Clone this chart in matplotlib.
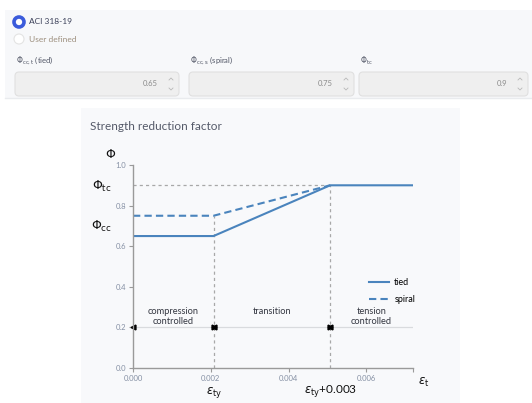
import numpy as np
import matplotlib.pyplot as plt
from matplotlib.patches import FancyBboxPatch, Rectangle, Circle

plt.rcParams['font.family'] = ['Lato', 'DejaVu Sans']
plt.rcParams['mathtext.fontset'] = 'dejavusans'

# form values
code_options = ['ACI 318-19', 'User defined']
field_labels = [r'$\Phi_{\mathrm{cc,t}}$ (tied)', r'$\Phi_{\mathrm{cc,s}}$ (spiral)', r'$\Phi_{\mathrm{tc}}$']
field_values = ['0.65', '0.75', '0.9']

# chart data
eps_ty = 0.00207
eps_end = 0.0072
tied_x = [0.0, eps_ty, eps_ty + 0.003, eps_end]
tied_y = [0.65, 0.65, 0.90, 0.90]
spiral_x = [0.0, eps_ty, eps_ty + 0.003]
spiral_y = [0.75, 0.75, 0.90]
zone_labels = ['compression\ncontrolled', 'transition', 'tension\ncontrolled']
xticks = [0.0, 0.002, 0.004, 0.006, eps_end]
xtick_labels = ['0.000', '0.002', '0.004', '0.006', '']
yticks = [0.0, 0.2, 0.4, 0.6, 0.8, 1.0]

W, H = 532, 403
fig = plt.figure(figsize=(W / 100, H / 100), dpi=100)
fig.patch.set_facecolor('white')

# background axis in pixel coordinates for the UI chrome
bg = fig.add_axes([0, 0, 1, 1])
bg.set_xlim(0, W)
bg.set_ylim(H, 0)
bg.axis('off')

bg.add_patch(Rectangle((5, 10), W - 5, 88, facecolor='#f7f8fa', edgecolor='none'))
bg.plot([5, W], [97.5, 97.5], color='#e9ebee', lw=1)

# radio buttons
bg.add_patch(Circle((19, 22), 5, facecolor='white', edgecolor='#3b5bdb', lw=2.6))
bg.text(29, 22, code_options[0], fontsize=6, color='#3a3f58', va='center')
bg.add_patch(Circle((19, 39), 5, facecolor='white', edgecolor='#e3e3e3', lw=0.8))
bg.text(29, 39, code_options[1], fontsize=6, color='#9d8f7e', va='center')

# numeric fields
boxes = [(15, 179), (189, 354), (359, 528)]
for (x0, x1), lab, val in zip(boxes, field_labels, field_values):
    bg.text(x0 + 1, 61, lab, fontsize=5.5, color='#505565', va='center')
    bg.add_patch(FancyBboxPatch((x0, 72), x1 - x0, 24,
                                boxstyle='round,pad=0,rounding_size=4',
                                facecolor='#efefef', edgecolor='#e0e0e0', lw=0.8))
    bg.text(x1 - 21, 84, val, fontsize=5.5, color='#8a8a8a', va='center', ha='right')
    cx = x1 - 8
    bg.plot([cx - 2, cx, cx + 2], [80, 78, 80], color='#b8b8b8', lw=0.6)
    bg.plot([cx - 2, cx, cx + 2], [88, 90, 88], color='#b8b8b8', lw=0.6)

# chart card
bg.add_patch(Rectangle((81, 108), 379, 295, facecolor='#f8f9fb', edgecolor='none'))
bg.text(90, 126, 'Strength reduction factor', fontsize=8.5, color='#555a69', va='center')

# chart
ax = fig.add_axes([133 / W, 1 - 368 / H, 280 / W, 203 / H])
ax.patch.set_visible(False)
ax.set_xlim(0, eps_end)
ax.set_ylim(0, 1.0)

blue = '#4a84bd'
ref = dict(color='#a8a8a8', lw=0.9, ls=(0, (2.5, 2.5)))
ax.plot([0, eps_ty + 0.003], [0.9, 0.9], **ref)
ax.plot([eps_ty, eps_ty], [0, 0.75], **ref)
ax.plot([eps_ty + 0.003, eps_ty + 0.003], [0, 0.9], **ref)

ax.plot(tied_x, tied_y, color=blue, lw=1.5, label='tied')
ax.plot(spiral_x, spiral_y, color=blue, lw=1.5, ls=(0, (3.5, 2)), label='spiral')

# zone bar with arrowheads
ax.plot([0, eps_end], [0.2, 0.2], color='#d9dbde', lw=0.9)
ax.plot([0], [0.2], marker='<', color='black', ms=3.5, clip_on=False)
for xb in [eps_ty, eps_ty + 0.003]:
    ax.plot([xb], [0.2], marker='<', color='black', ms=3.5)
    ax.plot([xb], [0.2], marker='>', color='black', ms=3.5)

zone_x = [eps_ty / 2, eps_ty + 0.0015, (eps_ty + 0.003 + eps_end) / 2]
for zx, zl in zip(zone_x, zone_labels):
    ax.text(zx, 0.30, zl, ha='center', va='top', fontsize=6.7, color='#333640',
            linespacing=1.15)

ax.set_xticks(xticks)
ax.set_xticklabels(xtick_labels)
ax.set_yticks(yticks)
ax.set_yticklabels(['%.1f' % v for v in yticks])
for side in ['top', 'right']:
    ax.spines[side].set_visible(False)
for side in ['left', 'bottom']:
    ax.spines[side].set_color('#9a9a9a')
    ax.spines[side].set_linewidth(1)
ax.tick_params(length=3, width=0.8, color='#9a9a9a', labelsize=5.5,
               labelcolor='#8590a4', pad=2)

# symbolic labels
ax.annotate(r'$\Phi$', xy=(0, 1.0), xycoords=('axes fraction', 'data'),
            xytext=(-22, 11), textcoords='offset pixels', ha='center', va='center',
            fontsize=9, color='#111111')
ax.annotate(r'$\Phi_{\mathrm{tc}}$', xy=(0, 0.9), xycoords=('axes fraction', 'data'),
            xytext=(-31, -1), textcoords='offset pixels', ha='center', va='center',
            fontsize=9, color='#111111')
ax.annotate(r'$\Phi_{\mathrm{cc}}$', xy=(0, 0.70), xycoords=('axes fraction', 'data'),
            xytext=(-31, -1), textcoords='offset pixels', ha='center', va='center',
            fontsize=9, color='#111111')
ax.annotate(r'$\varepsilon_{\mathrm{ty}}$', xy=(eps_ty, 0), xycoords=('data', 'axes fraction'),
            xytext=(1, -25), textcoords='offset pixels', ha='center', va='center',
            fontsize=8.5, color='#111111')
ax.annotate(r'$\varepsilon_{\mathrm{ty}}$+0.003', xy=(eps_ty + 0.003, 0),
            xycoords=('data', 'axes fraction'), xytext=(0, -23), textcoords='offset pixels',
            ha='center', va='center', fontsize=8.5, color='#111111')
ax.annotate(r'$\varepsilon_{\mathrm{t}}$', xy=(1, 0), xycoords='axes fraction',
            xytext=(11, -14), textcoords='offset pixels', ha='center', va='center',
            fontsize=8.5, color='#111111')

ax.legend(loc='upper left', bbox_to_anchor=(0.83, 0.46), frameon=False, fontsize=6.5,
          handlelength=2.2, handletextpad=0.6, labelspacing=0.9, borderaxespad=0)

fig.savefig('out.png', dpi=100)
